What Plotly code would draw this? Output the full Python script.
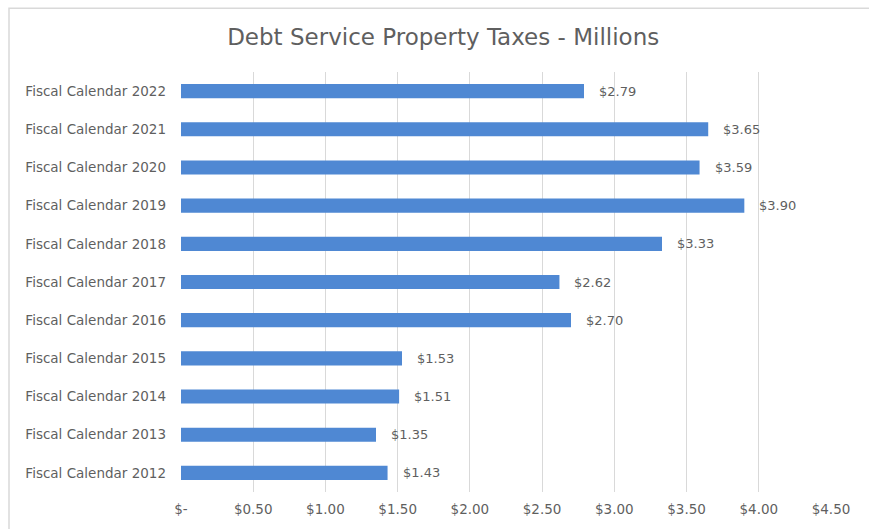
import plotly.graph_objects as go

# Fiscal years (bottom to top) and debt service property taxes in millions
categories = [
    "Fiscal Calendar 2012", "Fiscal Calendar 2013", "Fiscal Calendar 2014",
    "Fiscal Calendar 2015", "Fiscal Calendar 2016", "Fiscal Calendar 2017",
    "Fiscal Calendar 2018", "Fiscal Calendar 2019", "Fiscal Calendar 2020",
    "Fiscal Calendar 2021", "Fiscal Calendar 2022",
]
values = [1.43, 1.35, 1.51, 1.53, 2.70, 2.62, 3.33, 3.90, 3.59, 3.65, 2.79]

tick_vals = [0, 0.5, 1.0, 1.5, 2.0, 2.5, 3.0, 3.5, 4.0, 4.5]
tick_text = ["$-", "$0.50", "$1.00", "$1.50", "$2.00", "$2.50",
             "$3.00", "$3.50", "$4.00", "$4.50"]

GRAY = "#5f5f5f"
FONT = "DejaVu Sans"

fig = go.Figure()
fig.add_trace(go.Bar(
    x=values,
    y=categories,
    orientation="h",
    marker=dict(color="#4f88d3", line=dict(width=0)),
    hoverinfo="skip",
))

# Value labels to the right of each bar
for cat, val in zip(categories, values):
    fig.add_annotation(
        x=val, y=cat, xref="x", yref="y",
        text=f"${val:.2f}",
        showarrow=False, xanchor="left", xshift=13,
        font=dict(family=FONT, size=13, color=GRAY),
    )

# Light frame around the chart
fig.add_shape(
    type="rect", xref="paper", yref="paper",
    x0=-0.2646, x1=1.2, y0=-0.3, y1=1.152,
    line=dict(color="#d9d9d9", width=1.5), fillcolor="rgba(0,0,0,0)",
    layer="below",
)

fig.update_layout(
    width=869, height=529,
    margin=dict(l=181, r=38, t=72, b=35),
    paper_bgcolor="white", plot_bgcolor="white",
    bargap=0.63,
    showlegend=False,
    title=dict(
        text="Debt Service Property Taxes - Millions",
        x=0.51, xanchor="center", y=0.93, yanchor="middle",
        xref="container",
        font=dict(family=FONT, size=23, color=GRAY),
    ),
    xaxis=dict(
        range=[0, 4.5],
        tickvals=tick_vals, ticktext=tick_text,
        showgrid=True, gridcolor="#d9d9d9", gridwidth=1,
        zeroline=False, showline=False,
        ticks="", ticklabelstandoff=7,
        tickfont=dict(family=FONT, size=13.5, color=GRAY),
        fixedrange=True,
    ),
    yaxis=dict(
        showgrid=False, zeroline=False, showline=False,
        ticks="", ticklabelstandoff=14,
        tickfont=dict(family=FONT, size=13.5, color=GRAY),
        fixedrange=True,
    ),
)

fig.write_html("out.html")
